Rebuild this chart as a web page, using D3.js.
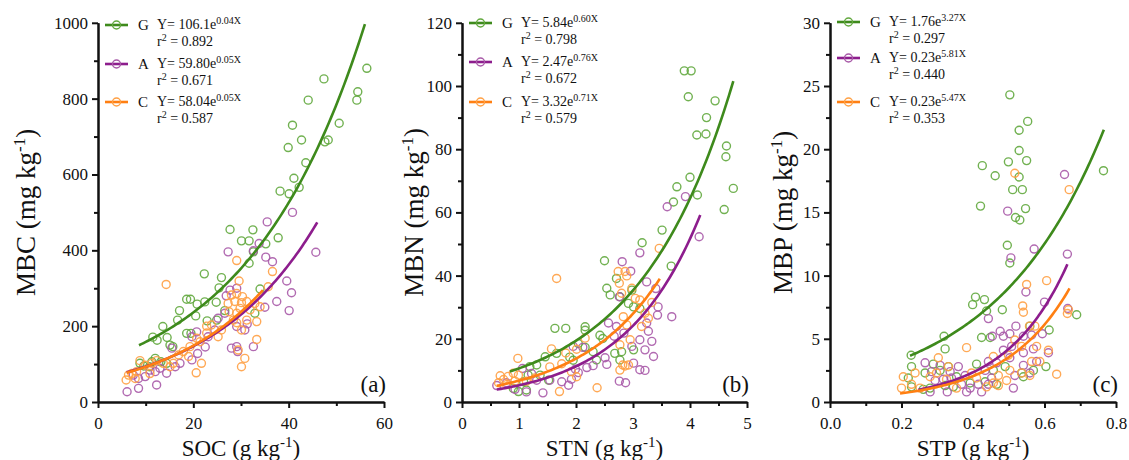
<!DOCTYPE html>
<html><head><meta charset="utf-8">
<script src="https://cdn.jsdelivr.net/npm/d3@7"></script>
<style>
body{margin:0;background:#fff}
svg{display:block}
text{font-family:"Liberation Serif","Times New Roman",serif;fill:#111}
</style>
</head><body>
<svg id="chart" width="1129" height="460"></svg>
<script>
// ---------- DATA ----------
const groups = ["G", "A", "C"];

// Panel (a): SOC vs MBC
const socG = [[44.1,796],[54.3,796],[54.5,818],[40.8,730],[50.6,735],[42.7,691],[39.9,671],[47.6,686],[48.3,691],[47.4,852],[56.4,880],[43.6,631],[41.1,590],[42.2,566],[38.2,556],[40.1,549],[27.7,455],[32.5,454],[30.1,425],[31.7,425],[37.8,433],[35.2,417],[32.6,396],[31.7,366],[22.3,338],[25.9,328],[25.4,301],[34.0,298],[18.6,271],[19.4,271],[17.1,241],[20.8,258],[22.4,264],[24.8,263],[26.6,241],[32.9,234],[16.7,216],[20.5,227],[22.9,214],[24.9,216],[13.6,199],[11.5,171],[12.4,163],[14.5,170],[18.6,181],[19.5,181],[15.1,150],[15.7,146],[12.0,115],[11.3,106],[8.8,102],[9.6,95],[13.2,106],[10.8,93],[14.4,102]];
const socA = [[35.5,475],[40.8,500],[45.7,395],[27.3,396],[32.6,399],[33.8,418],[35.2,382],[36.6,370],[39.6,319],[40.6,288],[37.5,265],[40.1,241],[26.9,280],[27.7,295],[29.1,300],[25.2,221],[26.6,234],[29.1,199],[31.3,206],[30.8,190],[35.0,250],[29.1,146],[28.0,142],[29.3,133],[32.6,146],[24.5,190],[23.1,172],[20.7,185],[19.7,172],[22.5,145],[19.7,111],[20.9,128],[17.2,102],[16.2,93],[15.5,142],[13.0,89],[12.3,45],[8.5,36],[6.1,27],[10.9,84],[12.0,80],[9.9,67],[8.5,62],[7.4,71],[14.4,76]];
const socC = [[14.3,310],[29.1,373],[36.6,344],[29.6,319],[35.7,304],[28.0,282],[29.1,286],[30.3,278],[31.2,265],[28.7,265],[27.3,260],[30.1,262],[32.9,260],[34.0,251],[31.9,243],[29.8,247],[27.5,238],[29.1,234],[31.2,216],[33.3,212],[29.1,209],[30.1,190],[28.4,216],[33.3,165],[29.4,137],[30.8,115],[30.1,93],[21.7,102],[20.6,77],[22.8,200],[23.8,203],[22.8,182],[20.7,168],[21.4,159],[19.3,146],[17.9,133],[16.9,124],[19.0,120],[15.1,93],[15.8,102],[13.7,102],[12.3,109],[11.3,102],[8.8,109],[9.9,97],[8.1,80],[7.1,75],[6.4,71],[5.9,58],[7.8,62],[10.9,75],[25.9,190],[25.2,172]];

// Panel (b): STN vs MBN
const stnG = [[3.90,104.8],[4.02,104.8],[3.97,96.6],[4.44,95.3],[4.29,90.0],[4.12,84.5],[4.28,84.8],[4.64,81.0],[4.63,77.6],[4.76,67.6],[4.60,60.9],[4.00,71.1],[3.77,68.1],[3.71,63.3],[4.13,65.5],[3.51,54.4],[3.16,50.4],[3.67,43.0],[2.50,44.7],[2.71,39.1],[2.54,36.0],[2.60,33.9],[2.77,33.3],[2.98,35.4],[2.92,31.2],[3.01,30.1],[3.12,29.6],[1.63,23.3],[1.82,23.3],[2.16,23.8],[2.16,22.7],[2.42,21.1],[2.47,20.1],[2.04,18.5],[2.16,17.3],[2.30,15.9],[2.36,13.3],[2.68,15.4],[2.80,15.9],[3.01,16.5],[2.77,13.3],[1.66,15.4],[1.46,14.3],[1.31,11.7],[1.19,11.2],[1.16,8.5],[1.37,8.5],[1.52,6.9],[1.08,6.4],[0.90,4.3],[1.13,3.8],[0.99,3.3],[1.89,14.2],[1.95,13.2]];
const stnA = [[3.60,61.8],[3.92,65.0],[4.16,52.3],[3.12,47.2],[2.81,44.4],[2.96,41.4],[3.24,38.0],[3.40,35.9],[3.44,30.1],[3.43,27.5],[3.68,27.0],[2.76,33.3],[2.57,25.0],[2.71,23.9],[2.67,20.8],[2.84,21.8],[2.98,17.6],[3.12,19.7],[3.24,25.0],[3.27,22.4],[3.33,19.2],[3.21,16.5],[3.36,14.4],[3.12,10.2],[3.01,12.3],[3.21,10.0],[2.51,14.0],[2.30,11.5],[2.12,17.3],[2.19,10.9],[2.54,11.9],[2.76,6.6],[2.87,6.1],[1.95,17.6],[1.99,10.4],[2.04,9.3],[1.92,7.2],[1.75,6.4],[1.87,5.3],[1.42,2.9],[1.06,10.6],[1.22,9.0],[1.31,6.9],[1.54,6.9],[0.61,5.2],[0.78,6.1],[0.93,4.0],[1.13,3.2]];
const stnC = [[1.66,39.1],[3.46,48.6],[2.74,41.3],[2.86,41.3],[2.89,39.9],[2.76,37.6],[2.80,34.4],[2.98,36.0],[3.04,32.8],[3.12,32.3],[3.33,31.5],[3.21,28.1],[3.15,23.9],[3.27,26.5],[2.83,27.0],[2.89,24.4],[2.95,19.7],[2.77,18.1],[2.82,11.7],[2.77,10.1],[2.92,11.7],[2.86,11.4],[2.16,20.2],[2.01,16.7],[1.57,16.8],[1.82,15.5],[1.75,12.1],[1.54,11.1],[1.92,9.6],[2.01,8.0],[0.98,13.8],[0.90,9.1],[0.99,8.5],[0.81,8.1],[0.67,8.3],[0.64,6.1],[0.78,5.5],[0.93,6.6],[1.13,6.6],[1.28,7.6],[0.73,7.1],[1.71,3.3],[2.37,4.5]];

// Panel (c): STP vs MBP
const stpG = [[0.503,24.3],[0.553,22.2],[0.529,21.5],[0.529,19.9],[0.550,19.1],[0.499,19.0],[0.426,18.7],[0.462,17.9],[0.529,17.8],[0.511,16.8],[0.538,16.8],[0.765,18.3],[0.421,15.5],[0.547,15.3],[0.519,14.6],[0.531,14.4],[0.496,12.4],[0.503,11.0],[0.407,8.3],[0.399,7.7],[0.432,8.1],[0.438,7.2],[0.482,7.3],[0.690,6.9],[0.319,5.2],[0.322,4.2],[0.424,5.1],[0.448,5.1],[0.559,6.0],[0.613,5.7],[0.227,3.7],[0.228,2.8],[0.266,2.3],[0.289,3.0],[0.308,2.5],[0.331,2.8],[0.354,2.0],[0.410,3.0],[0.457,2.5],[0.490,2.8],[0.536,2.3],[0.541,2.0],[0.569,2.5],[0.604,2.8],[0.219,1.9],[0.228,1.2],[0.261,1.0],[0.280,1.1],[0.322,1.3],[0.345,1.2],[0.392,1.5],[0.434,1.6],[0.466,1.4]];
const stpA = [[0.656,18.0],[0.497,15.1],[0.571,12.1],[0.664,11.7],[0.506,11.4],[0.548,8.7],[0.600,7.9],[0.665,7.4],[0.443,6.6],[0.454,5.2],[0.476,5.6],[0.485,5.2],[0.503,5.4],[0.520,6.0],[0.541,5.2],[0.564,5.3],[0.594,5.4],[0.485,4.1],[0.508,4.4],[0.541,3.9],[0.611,3.9],[0.569,4.2],[0.266,3.1],[0.308,2.9],[0.359,2.8],[0.443,3.2],[0.466,3.1],[0.503,3.5],[0.541,2.9],[0.578,3.2],[0.284,2.4],[0.336,2.4],[0.434,2.5],[0.378,2.1],[0.517,2.1],[0.559,2.3],[0.294,1.7],[0.317,1.8],[0.340,1.9],[0.368,1.4],[0.392,1.1],[0.415,1.4],[0.443,1.4],[0.382,0.8],[0.424,0.8],[0.328,0.8],[0.513,1.1],[0.452,1.9],[0.280,0.8]];
const stpC = [[0.517,18.1],[0.669,16.8],[0.550,9.3],[0.606,9.6],[0.539,7.6],[0.541,7.1],[0.667,7.3],[0.664,7.0],[0.558,6.0],[0.573,6.0],[0.382,4.3],[0.536,4.4],[0.578,4.4],[0.611,4.1],[0.499,3.7],[0.517,4.9],[0.303,3.5],[0.331,2.8],[0.457,3.6],[0.564,3.2],[0.587,3.2],[0.634,2.2],[0.205,2.0],[0.238,2.3],[0.280,2.0],[0.298,2.3],[0.326,1.8],[0.396,2.3],[0.410,1.9],[0.471,2.1],[0.503,2.5],[0.536,2.3],[0.559,2.1],[0.457,1.5],[0.200,1.1],[0.228,1.4],[0.252,1.1],[0.354,1.1],[0.438,1.2],[0.471,1.3],[0.494,1.7]];

// Exponential fits as drawn: [a, b, xStart, xEnd]  (Y = a * e^(bX))
const fitSOC = [[106.1,0.040,8.6,56.0],[59.80,0.045,6.0,46.0],[58.04,0.047,6.0,34.6]];
const fitSTN = [[5.84,0.60,0.84,4.76],[2.47,0.76,0.61,4.18],[3.32,0.71,0.61,3.47]];
const fitSTP = [[1.76,3.27,0.224,0.766],[0.23,5.81,0.247,0.664],[0.23,5.47,0.196,0.670]];

// Legend texts: [coefficient, exponent, r²]
const legSOC = [["106.1","0.04X","0.892"],["59.80","0.05X","0.671"],["58.04","0.05X","0.587"]];
const legSTN = [["5.84","0.60X","0.798"],["2.47","0.76X","0.672"],["3.32","0.71X","0.579"]];
const legSTP = [["1.76","3.27X","0.297"],["0.23","5.81X","0.440"],["0.23","5.47X","0.353"]];

// Axis ticks
const xTicksSOC = [0,20,40,60], xMinorSOC = [10,30,50];
const yTicksMBC = [0,200,400,600,800,1000], yMinorMBC = [100,300,500,700,900];
const xTicksSTN = [0,1,2,3,4,5], xMinorSTN = [0.5,1.5,2.5,3.5,4.5];
const yTicksMBN = [0,20,40,60,80,100,120], yMinorMBN = [10,30,50,70,90,110];
const xTicksSTP = [0,0.2,0.4,0.6,0.8], xMinorSTP = [0.1,0.3,0.5,0.7];
const yTicksMBP = [0,5,10,15,20,25,30], yMinorMBP = [2.5,7.5,12.5,17.5,22.5,27.5];

// ---------- STYLE / LAYOUT ----------
const lineColor = {G:"#3e8a1c", A:"#8d1d8d", C:"#ff7f12"};
const dotColor = {G:"#62a83e", A:"#a85aa8", C:"#ffa044"};
const yTop = 22.8, yBot = 402;

const panels = [
  {left:98, right:384, xDomain:[0,60], yDomain:[0,1000], pts:[socG,socA,socC], fit:fitSOC, leg:legSOC,
   xt:xTicksSOC, xm:xMinorSOC, yt:yTicksMBC, ym:yMinorMBC, xfmt:d3.format("d"),
   xlab:"SOC", ylab:"MBC", yu:"mg", yLabX:35, legRows:[25,64,102], tag:"(a)"},
  {left:462, right:747, xDomain:[0,5], yDomain:[0,120], pts:[stnG,stnA,stnC], fit:fitSTN, leg:legSTN,
   xt:xTicksSTN, xm:xMinorSTN, yt:yTicksMBN, ym:yMinorMBN, xfmt:d3.format("d"),
   xlab:"STN", ylab:"MBN", yu:"mg", yLabX:423, legRows:[23,62,102], tag:"(b)"},
  {left:830, right:1116, xDomain:[0,0.8], yDomain:[0,30], pts:[stpG,stpA,stpC], fit:fitSTP, leg:legSTP,
   xt:xTicksSTP, xm:xMinorSTP, yt:yTicksMBP, ym:yMinorMBP, xfmt:d3.format(".1f"),
   xlab:"STP", ylab:"MBP", yu:"mg", yLabX:792, legRows:[22,58,102], tag:"(c)"}
];

const svg = d3.select("#chart");

function styleAxis(g){
  g.select(".domain").attr("stroke","#111").attr("stroke-width",2);
  g.selectAll(".tick line").attr("stroke","#111").attr("stroke-width",2);
  g.selectAll(".tick text").style("font-family",'"Liberation Serif","Times New Roman",serif').style("font-size","17px").attr("fill","#111");
}

panels.forEach(p => {
  const x = d3.scaleLinear().domain(p.xDomain).range([p.left, p.right]);
  const y = d3.scaleLinear().domain(p.yDomain).range([yBot, yTop]);
  const g = svg.append("g");

  // points
  groups.forEach((k,i) => {
    g.append("g").selectAll("circle").data(p.pts[i]).join("circle")
      .attr("cx", d => x(d[0])).attr("cy", d => y(d[1])).attr("r", 4)
      .attr("fill","none").attr("stroke", dotColor[k]).attr("stroke-width",1.4).attr("stroke-opacity",0.9);
  });

  // fitted curves
  groups.forEach((k,i) => {
    const [a,b,x0,x1] = p.fit[i];
    const xs = d3.range(0,101).map(j => x0 + (x1-x0)*j/100);
    const line = d3.line().x(v => x(v)).y(v => y(a*Math.exp(b*v))).curve(d3.curveLinear);
    g.append("path").attr("d", line(xs)).attr("fill","none")
      .attr("stroke", lineColor[k]).attr("stroke-width",2.6);
  });

  // axes: minor ticks then major
  g.append("g").attr("transform",`translate(0,${yBot})`)
    .call(d3.axisBottom(x).tickValues(p.xm).tickSize(4).tickSizeOuter(0).tickFormat(""))
    .call(styleAxis);
  g.append("g").attr("transform",`translate(0,${yBot})`)
    .call(d3.axisBottom(x).tickValues(p.xt).tickSize(6).tickSizeOuter(0).tickPadding(9).tickFormat(p.xfmt))
    .call(styleAxis);
  g.append("g").attr("transform",`translate(${p.left},0)`)
    .call(d3.axisLeft(y).tickValues(p.ym).tickSize(4).tickSizeOuter(0).tickFormat(""))
    .call(styleAxis);
  g.append("g").attr("transform",`translate(${p.left},0)`)
    .call(d3.axisLeft(y).tickValues(p.yt).tickSize(6).tickSizeOuter(0).tickPadding(4).tickFormat(d3.format("d")))
    .call(styleAxis);

  // x label
  const xl = g.append("text").attr("x",(p.left+p.right)/2).attr("y",456)
    .attr("text-anchor","middle").style("font-size","23px");
  xl.append("tspan").text(p.xlab + " (g kg");
  xl.append("tspan").attr("dy",-9).style("font-size","15px").text("-1");
  xl.append("tspan").attr("dy",9).text(")");

  // y label
  const yl = g.append("text").attr("transform",`translate(${p.yLabX},${(yTop+yBot)/2}) rotate(-90)`)
    .attr("text-anchor","middle").style("font-size","27px");
  yl.append("tspan").text(p.ylab + " (" + p.yu + " kg");
  yl.append("tspan").attr("dy",-10).style("font-size","17px").text("-1");
  yl.append("tspan").attr("dy",10).text(")");

  // panel tag
  g.append("text").attr("x",p.right+2).attr("y",392).attr("text-anchor","end")
    .style("font-size","23px").text(p.tag);

  // legend
  groups.forEach((k,i) => {
    const ly = p.legRows[i];
    const lx = p.left + 7;
    g.append("line").attr("x1",lx).attr("x2",lx+23).attr("y1",ly).attr("y2",ly)
      .attr("stroke",lineColor[k]).attr("stroke-width",2.6);
    g.append("circle").attr("cx",lx+11.5).attr("cy",ly).attr("r",4)
      .attr("fill","none").attr("stroke",dotColor[k]).attr("stroke-width",1.4);
    g.append("text").attr("x",p.left+40).attr("y",ly+5).style("font-size","15px").text(k);
    const t = g.append("text").attr("x",p.left+59).attr("y",ly+4).style("font-size","14px");
    t.append("tspan").text("Y= " + p.leg[i][0] + "e");
    t.append("tspan").attr("dy",-5).style("font-size","10px").text(p.leg[i][1]);
    const r = g.append("text").attr("x",p.left+59).attr("y",ly+21).style("font-size","14px");
    r.append("tspan").text("r");
    r.append("tspan").attr("dy",-5).style("font-size","10px").text("2");
    r.append("tspan").attr("dy",5).text(" = " + p.leg[i][2]);
  });
});
</script>
</body></html>
